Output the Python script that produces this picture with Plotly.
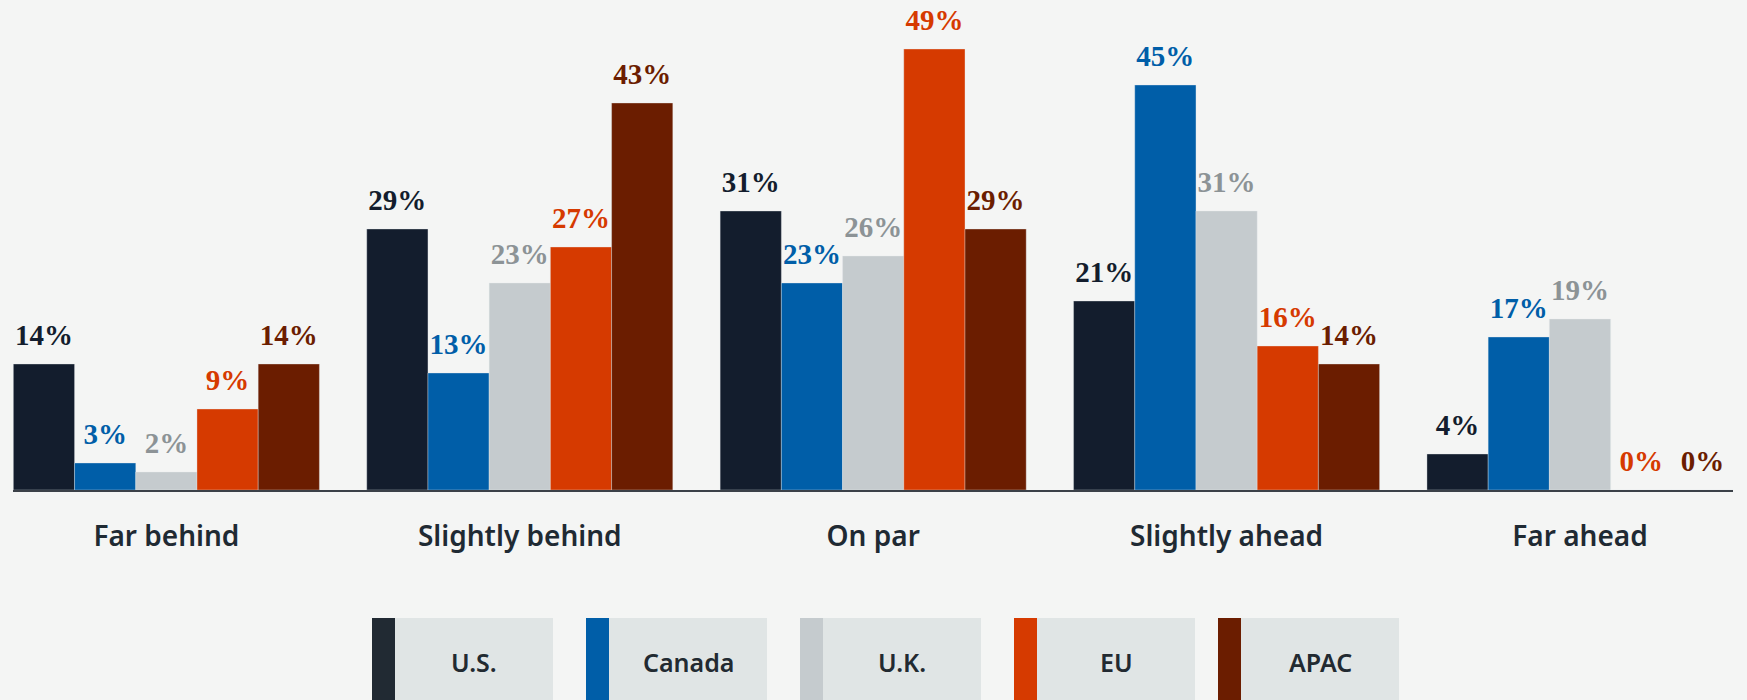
import plotly.graph_objects as go

# Survey responses by region
categories = ["Far behind", "Slightly behind", "On par", "Slightly ahead", "Far ahead"]
regions = ["U.S.", "Canada", "U.K.", "EU", "APAC"]
us = [14, 29, 31, 21, 4]
canada = [3, 13, 23, 45, 17]
uk = [2, 23, 26, 31, 19]
eu = [9, 27, 49, 16, 0]
apac = [14, 43, 29, 14, 0]
series = [us, canada, uk, eu, apac]

bar_colors = ["#131d2d", "#005ea8", "#c5cbce", "#d63a00", "#6b1d00"]
label_colors = ["#131d2d", "#005ea8", "#8c9396", "#d63a00", "#6b1d00"]
swatch_colors = ["#212a33", "#005ea8", "#c5cbce", "#d63a00", "#6b1d00"]

W, H = 1747, 700
ML, MR, MT, MB = 13, 14, 0, 210
PX_PER_PCT = 9.0
plot_w = W - ML - MR
plot_h = H - MT - MB
GAP = 0.134

fig = go.Figure()
for name, vals, bc, lc in zip(regions, series, bar_colors, label_colors):
    fig.add_trace(go.Bar(
        x=categories, y=vals, name=name, offsetgroup=name,
        marker=dict(color=bc, line=dict(color="rgba(230,235,238,0.35)", width=1)),
        hoverinfo="skip", showlegend=False,
    ))
    fig.add_trace(go.Scatter(
        x=categories, y=vals, offsetgroup=name, mode="markers+text",
        text=[f"{v}%" for v in vals], textposition="top center",
        marker=dict(size=17, opacity=0),
        textfont=dict(family="Liberation Serif", size=29, color=lc, weight="bold"),
        cliponaxis=False, hoverinfo="skip", showlegend=False,
    ))

# Legend: coloured stripe + grey box per region (pixel layout converted to paper units)
leg_x0 = [372, 586, 800, 1014, 1218]
STRIPE_W, BOX_W = 23, 181
leg_top, leg_bot, leg_mid = 618, 720, 662


def px(x):
    return (x - ML) / plot_w


def py(y):
    return (H - MB - y) / plot_h


shapes, annots = [], []
for name, sc, a in zip(regions, swatch_colors, leg_x0):
    s, b = a + STRIPE_W, a + BOX_W
    shapes.append(dict(type="rect", xref="paper", yref="paper", x0=px(s), x1=px(b),
                       y0=py(leg_bot), y1=py(leg_top), fillcolor="#e0e5e5", line=dict(width=0), layer="below"))
    shapes.append(dict(type="rect", xref="paper", yref="paper", x0=px(a), x1=px(s),
                       y0=py(leg_bot), y1=py(leg_top), fillcolor=sc, line=dict(width=0), layer="below"))
    annots.append(dict(xref="paper", yref="paper", x=px((s + b) / 2), y=py(leg_mid), text=name,
                       showarrow=False, xanchor="center", yanchor="middle",
                       font=dict(family="Noto Sans", size=25, color="#222a31", weight=600)))

fig.update_layout(
    width=W, height=H,
    margin=dict(l=ML, r=MR, t=MT, b=MB),
    paper_bgcolor="#f4f5f4", plot_bgcolor="#f4f5f4",
    barmode="group", bargap=GAP, bargroupgap=0,
    scattermode="group", scattergap=GAP,
    shapes=shapes, annotations=annots,
    xaxis=dict(type="category", range=[-0.434, 4.433], showgrid=False, zeroline=False,
               showline=True, linecolor="#3b4148", linewidth=2, ticks="",
               ticklabelstandoff=20,
               tickfont=dict(family="Noto Sans", size=28, color="#1f2a33", weight=600)),
    yaxis=dict(range=[0, plot_h / PX_PER_PCT], visible=False, showgrid=False, zeroline=False),
    showlegend=False,
)

fig.write_html("out.html")
